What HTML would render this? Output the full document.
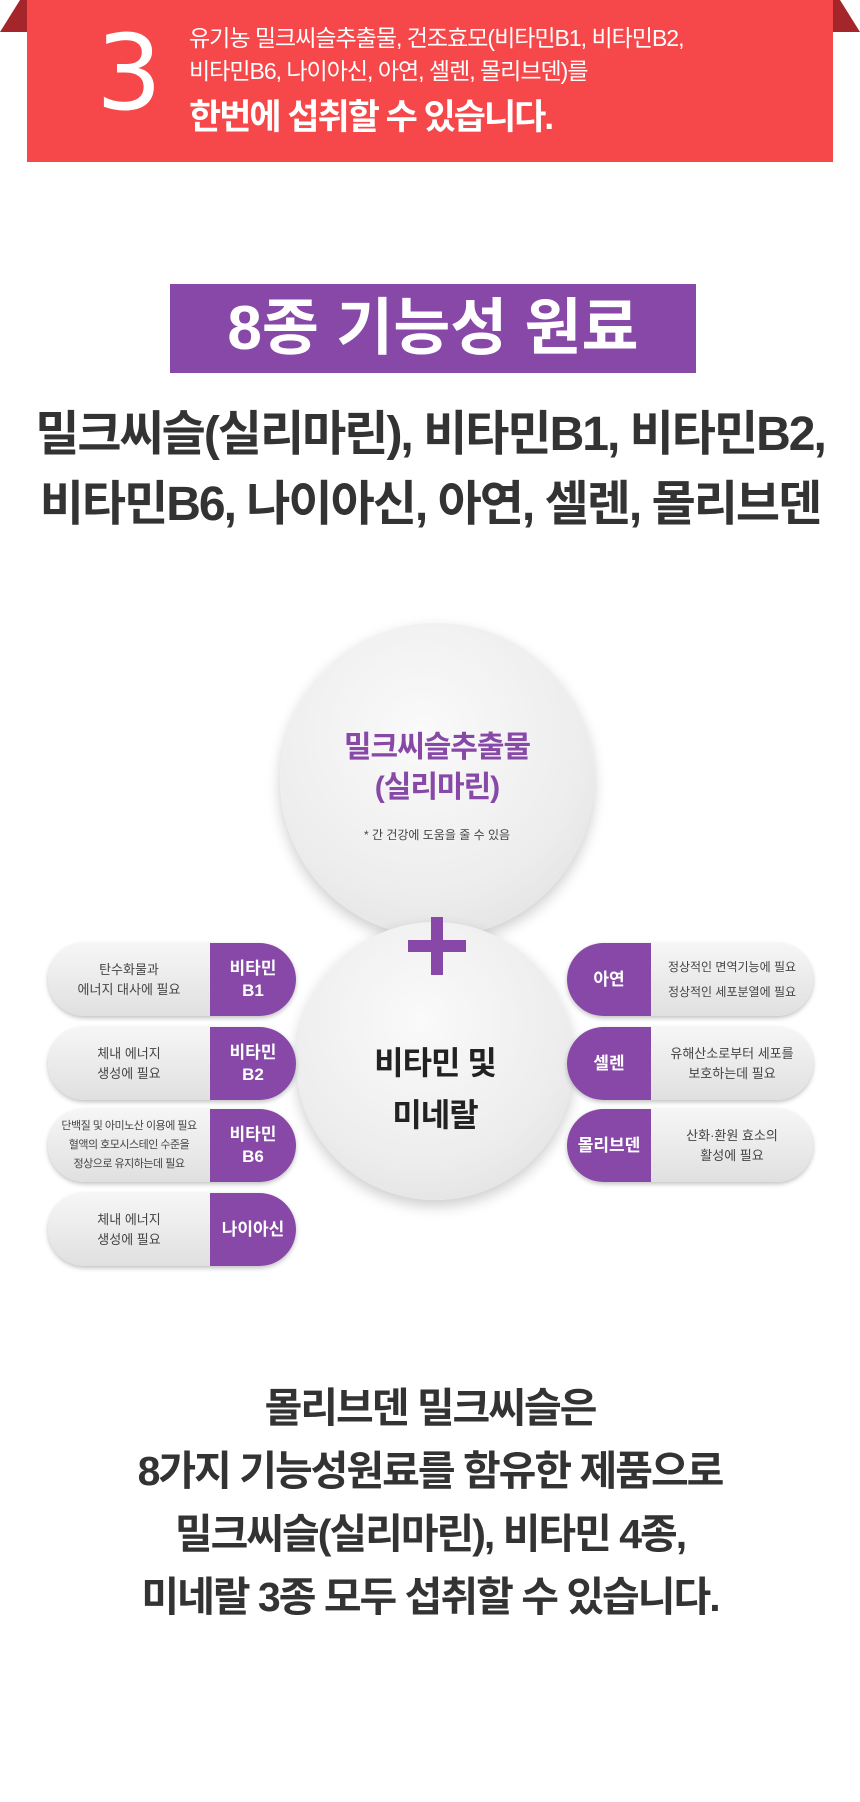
<!DOCTYPE html>
<html><head><meta charset="utf-8"><style>
*{margin:0;padding:0;box-sizing:border-box}
body{width:860px;height:1802px;background:#fff;position:relative;overflow:hidden;font-family:"Liberation Sans","Noto Sans CJK KR",sans-serif}
.a{position:absolute}
.c{text-align:center;white-space:nowrap}
.pill{position:absolute;height:73px;border-radius:37px;background:linear-gradient(#f6f6f6,#e0e0e0);box-shadow:0 2px 5px rgba(0,0,0,.25);overflow:hidden}
.pl{left:48px;width:248px}
.pr{left:567px;width:246px}
.pu{position:absolute;top:0;height:73px;background:#8748a8;color:#fff;font-weight:bold;font-size:17px;display:flex;align-items:center;justify-content:center;text-align:center;line-height:22px}
.tx{position:absolute;top:0;height:73px;display:flex;align-items:center;justify-content:center;text-align:center;font-size:13px;color:#444;line-height:20px}
.big{font-weight:bold;color:#333;letter-spacing:-2px}
</style></head><body>
<svg class="a" style="left:0;top:0" width="860" height="40"><polygon points="0,32 27,32 27,0 20,0" fill="#a5262a"/><polygon points="860,32 833,32 833,0 840,0" fill="#a5262a"/></svg>
<div class="a" style="left:27px;top:0;width:806px;height:162px;background:#f6484a"></div>
<div class="a" style="left:96px;top:12px;font-size:104px;color:#fff;font-family:'DejaVu Sans',sans-serif;font-weight:normal">3</div>
<div class="a" style="left:189px;top:22px;color:#fff;font-size:23px;line-height:33px;letter-spacing:-1px">유기농 밀크씨슬추출물, 건조효모(비타민B1, 비타민B2,<br>비타민B6, 나이아신, 아연, 셀렌, 몰리브덴)를</div>
<div class="a" style="left:189px;top:89px;color:#fff;font-size:35px;font-weight:bold;letter-spacing:-2px">한번에 섭취할 수 있습니다.</div>

<div class="a c" style="left:170px;top:284px;width:526px;height:89px;background:#8748a8;color:#fff;font-size:62px;font-weight:bold;line-height:89px">8종 기능성 원료</div>
<div class="a c big" style="left:0;width:860px;top:405px;font-size:48px;line-height:60px">밀크씨슬(실리마린), 비타민B1, 비타민B2,</div>
<div class="a c big" style="left:0;width:860px;top:475px;font-size:48px;line-height:60px">비타민B6, 나이아신, 아연, 셀렌, 몰리브덴</div>

<div class="a" style="left:280px;top:623px;width:314px;height:314px;border-radius:50%;background:radial-gradient(circle at 45% 35%,#fafafa,#ededed 60%,#dcdcdc);box-shadow:0 6px 14px rgba(0,0,0,.2)"></div>
<div class="a" style="left:296px;top:922px;width:278px;height:278px;border-radius:50%;background:radial-gradient(circle at 45% 35%,#fafafa,#ededed 60%,#dcdcdc);box-shadow:0 6px 14px rgba(0,0,0,.2)"></div>
<div class="a c" style="left:280px;width:314px;top:728px;color:#8748a8;font-weight:bold;font-size:30px;line-height:40px;letter-spacing:-1px">밀크씨슬추출물<br>(실리마린)</div>
<div class="a c" style="left:280px;width:314px;top:826px;color:#444;font-size:12px">* 간 건강에 도움을 줄 수 있음</div>
<div class="a" style="left:408px;top:940px;width:58px;height:12px;background:#8748a8"></div>
<div class="a" style="left:431px;top:917px;width:12px;height:58px;background:#8748a8"></div>
<div class="a c" style="left:296px;width:278px;top:1037px;color:#222;font-weight:bold;font-size:32px;line-height:52px;letter-spacing:-1px">비타민 및<br>미네랄</div>

<div class="pill pl" style="top:943px"><div class="tx" style="left:0;width:162px">탄수화물과<br>에너지 대사에 필요</div><div class="pu" style="left:162px;width:86px">비타민<br>B1</div></div>
<div class="pill pl" style="top:1027px"><div class="tx" style="left:0;width:162px">체내 에너지<br>생성에 필요</div><div class="pu" style="left:162px;width:86px">비타민<br>B2</div></div>
<div class="pill pl" style="top:1109px"><div class="tx" style="left:0;width:162px;font-size:11px;letter-spacing:-.5px;line-height:19px">단백질 및 아미노산 이용에 필요<br>혈액의 호모시스테인 수준을<br>정상으로 유지하는데 필요</div><div class="pu" style="left:162px;width:86px">비타민<br>B6</div></div>
<div class="pill pl" style="top:1193px"><div class="tx" style="left:0;width:162px">체내 에너지<br>생성에 필요</div><div class="pu" style="left:162px;width:86px">나이아신</div></div>

<div class="pill pr" style="top:943px"><div class="pu" style="left:0;width:84px">아연</div><div class="tx" style="left:84px;width:162px;font-size:12px;line-height:25px">정상적인 면역기능에 필요<br>정상적인 세포분열에 필요</div></div>
<div class="pill pr" style="top:1027px"><div class="pu" style="left:0;width:84px">셀렌</div><div class="tx" style="left:84px;width:162px">유해산소로부터 세포를<br>보호하는데 필요</div></div>
<div class="pill pr" style="top:1109px"><div class="pu" style="left:0;width:84px">몰리브덴</div><div class="tx" style="left:84px;width:162px">산화·환원 효소의<br>활성에 필요</div></div>

<div class="a c big" style="left:0;width:860px;top:1377px;font-size:41px;line-height:63px;letter-spacing:-2px">몰리브덴 밀크씨슬은<br>8가지 기능성원료를 함유한 제품으로<br>밀크씨슬(실리마린), 비타민 4종,<br>미네랄 3종 모두 섭취할 수 있습니다.</div>
</body></html>
